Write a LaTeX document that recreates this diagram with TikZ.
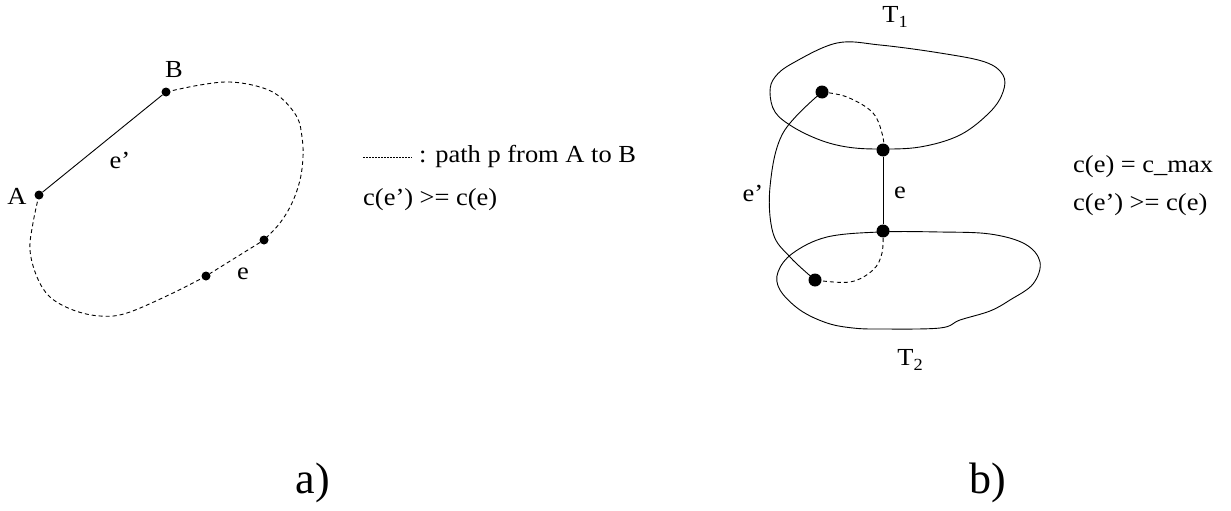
\documentclass[tikz,border=0pt]{standalone}
\usepackage{fontspec}
\setmainfont{Liberation Serif}
\newfontfamily\labfont{Liberation Serif}[FakeStretch=1.08]
\begin{document}
\begin{tikzpicture}[x=1pt,y=-1pt,
  dot/.style={circle,fill=black,inner sep=0pt,minimum size=9pt},
  bigdot/.style={circle,fill=black,inner sep=0pt,minimum size=13pt},
  lbl/.style={inner sep=0pt,font=\labfont\fontsize{24.5}{29}\selectfont},
  captxt/.style={inner sep=0pt,font=\fontsize{44}{50}\selectfont},
  pathline/.style={line width=0.9pt,dash pattern=on 4pt off 3pt},
  edgeline/.style={line width=0.9pt},
  legline/.style={line width=0.9pt,dash pattern=on 1.5pt off 1.5pt}]
\useasboundingbox (0,0) rectangle (1231,511);
% ---------- a) ----------
\node[dot] (A) at (39,195) {};
\node[dot] (B) at (166,92) {};
\node[dot] (E1) at (264,240) {};
\node[dot] (E2) at (206,276) {};
\node[lbl] (lA) at (17,196) {A};
\node[lbl] (lB) at (174,70) {B};
\node[lbl] (lep) at (120,160) {e’};
\node[lbl] (le) at (243,274) {e};
\draw[edgeline] (A) -- (B);
\draw[pathline] plot[smooth,tension=0.6] coordinates {(B.center) (200,85) (230,82) (260,87) (280,97) (297,117) (302,137) (303,157) (300,180) (292,203) (280,223) (E1.center)};
\draw[pathline] (E1) -- (E2);
\draw[pathline] plot[smooth,tension=0.6] coordinates {(E2.center) (173,293) (127,313) (100,316) (73,310) (50,297) (37,277) (30,250) (33,223) (A.center)};
\coordinate (lg1) at (363,157);
\coordinate (lg2) at (412,157);
\draw[legline] (lg1) -- (lg2);
\node[lbl,anchor=west] (leg) at (419,156) {: path p from A to B};
\node[lbl,anchor=west] (ineqa) at (363,200) {c(e’) >= c(e)};
\node[captxt] (capa) at (313,483) {a)};
% ---------- b) ----------
\draw[edgeline] plot[smooth cycle,tension=0.6] coordinates {(770,92) (775,77) (793,63) (837,43) (880,45) (940,53) (985,62) (1003,75) (1003,92) (990,112) (960,135) (920,147) (878,149) (847,147) (820,140) (793,127) (775,112)};
\draw[edgeline] plot[smooth cycle,tension=0.6] coordinates {(778,272) (793,253) (827,237) (880,232) (940,232) (990,234) (1025,244) (1040,262) (1033,284) (1010,300) (990,311) (960,320) (940,328) (880,329) (853,328) (827,323) (800,310) (780,290)};
\node[bigdot] (P) at (822,92) {};
\node[bigdot] (Q) at (883,150) {};
\node[bigdot] (R) at (883,231) {};
\node[bigdot] (S) at (815,280) {};
\draw[edgeline] (Q) -- (R);
\draw[edgeline] plot[smooth,tension=0.6] coordinates {(P.center) (783,133) (770,187) (773,233) (790,257) (S.center)};
\draw[pathline] plot[smooth,tension=0.6] coordinates {(P.center) (847,97) (873,113) (883,137) (Q.center)};
\draw[pathline] plot[smooth,tension=0.6] coordinates {(R.center) (882,253) (873,270) (850,282) (S.center)};
\node[lbl] (lT1) at (895,17) {T\raisebox{-0.4ex}{\fontsize{17}{17}\selectfont 1}};
\node[lbl] (lT2) at (910,360) {T\raisebox{-0.4ex}{\fontsize{17}{17}\selectfont 2}};
\node[lbl] (lepb) at (753,193) {e’};
\node[lbl] (leb) at (900,193) {e};
\node[lbl,anchor=west] (cmax) at (1073,167) {c(e) = c\_max};
\node[lbl,anchor=west] (ineqb) at (1073,205) {c(e’) >= c(e)};
\node[captxt] (capb) at (988,483) {b)};
\end{tikzpicture}
\end{document}
